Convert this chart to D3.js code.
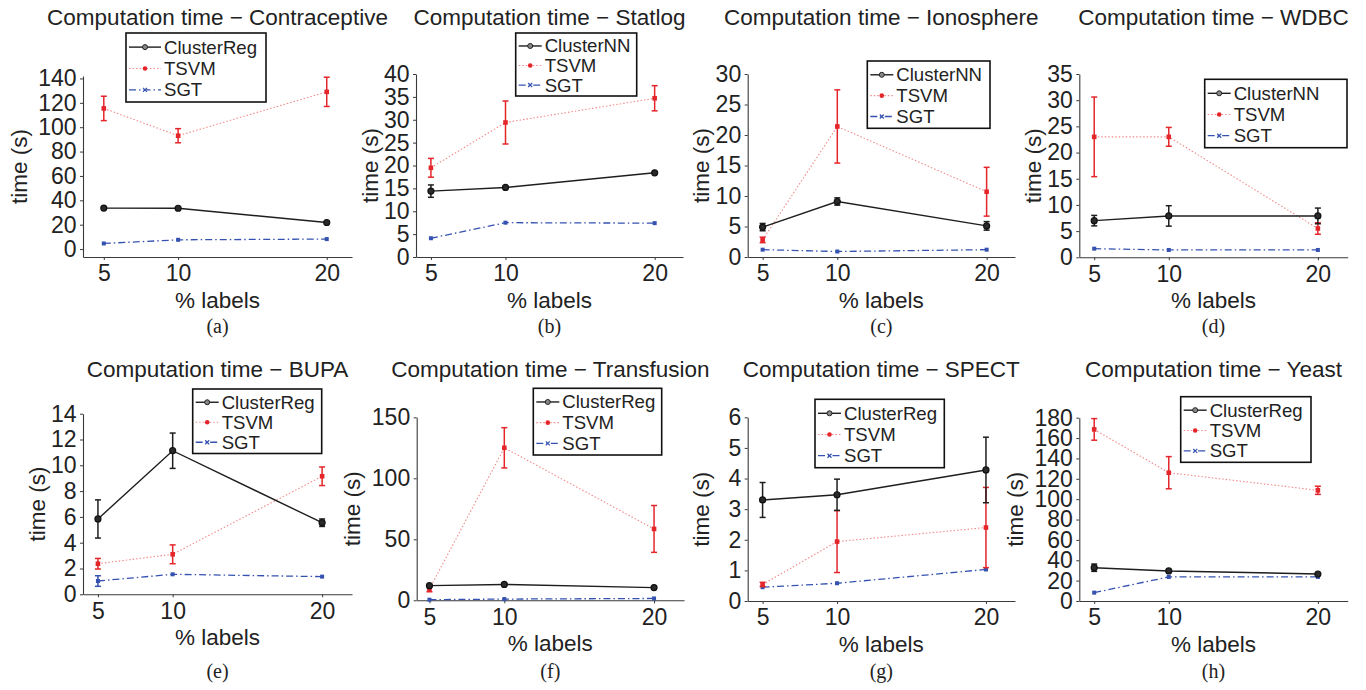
<!DOCTYPE html>
<html><head><meta charset="utf-8">
<script src="https://cdn.jsdelivr.net/npm/d3@7"></script>
<style>
body{margin:0;background:#fff}
svg{display:block}
text{font-family:"Liberation Sans",Arial,Helvetica,sans-serif;fill:#222}
.cap{font-family:"Liberation Serif","Times New Roman",serif}
</style>
</head><body><svg id="c" width="1366" height="690"></svg>
<script>
// ---------- data ----------
const xValues = [5, 10, 20];
const datasets = ["Contraceptive","Statlog","Ionosphere","WDBC","BUPA","Transfusion","SPECT","Yeast"];
const captions = ["(a)","(b)","(c)","(d)","(e)","(f)","(g)","(h)"];
const clusterMethod = ["ClusterReg","ClusterNN","ClusterNN","ClusterNN","ClusterReg","ClusterReg","ClusterReg","ClusterReg"];
const clusterTime = [[33.6,33.5,21.8],[14.4,15.2,18.4],[4.9,9.1,5.1],[7.0,7.9,7.9],[5.84,11.13,5.55],[12.0,13.0,10.4],[3.3,3.47,4.28],[32.7,29.5,26.5]];
const clusterErr  = [[0,0,0],[1.35,0,0],[0.6,0.6,0.7],[1.0,1.95,1.5],[1.48,1.37,0.29],[0,0,0],[0.57,0.51,1.07],[3.6,0,0]];
const tsvmTime = [[115.4,93.0,129.0],[19.5,29.4,34.7],[2.8,21.4,10.7],[23.0,23.0,5.5],[2.37,3.1,9.15],[9.3,125,58.5],[0.54,1.94,2.4],[168.5,126,108.7]];
const tsvmErr  = [[10,5.8,12],[2.05,4.7,2.75],[0.45,6.0,4.0],[7.6,1.8,1.1],[0.41,0.73,0.72],[2.3,16.5,19.2],[0.07,1.01,1.31],[10.6,15.8,4.0]];
const sgtTime = [[4.6,7.6,8.2],[4.1,7.5,7.4],[1.2,0.9,1.2],[1.65,1.4,1.4],[1.03,1.55,1.37],[0.5,1.0,1.5],[0.45,0.58,1.03],[8.2,23.6,23.6]];
const sgtErr  = [[0,0,0],[0,0,0],[0,0,0],[0,0,0],[0.41,0,0],[0,0,0],[0,0,0],[0,0,0]];
const yTicks = [
  [0,20,40,60,80,100,120,140],
  [0,5,10,15,20,25,30,35,40],
  [0,5,10,15,20,25,30],
  [0,5,10,15,20,25,30,35],
  [0,2,4,6,8,10,12,14],
  [0,50,100,150],
  [0,1,2,3,4,5,6],
  [0,20,40,60,80,100,120,140,160,180]
];
const titlePrefix = "Computation time \u2212 ";
const xLabel = "% labels";
const yLabel = "time (s)";
const seriesNames = ["TSVM","SGT"];

// ---------- layout ----------
const layout = [
  {x0:83,   x1:352,   yT:76,    yB:257,   xd:[3.6,21.7], yd:[-6.5,142], leg:[126,33,140,69],      tx:38},
  {x0:416,  x1:683,   yT:74,    yB:257,   xd:[4,21.9],   yd:[0,40],     leg:[515.7,33,121,63],    tx:29},
  {x0:747.7,x1:1015,  yT:74,    yB:257,   xd:[4,21.9],   yd:[0,30],     leg:[867.3,61,122.7,67.3],tx:29},
  {x0:1079.3,x1:1347.7,yT:74,   yB:257.3, xd:[4,22],     yd:[0,35],     leg:[1204.7,79.3,142.3,68.4],tx:29},
  {x0:83,   x1:352,   yT:413.7, yB:594.3, xd:[4,22],     yd:[0,14],     leg:[192.7,389,129,64.5], tx:29},
  {x0:416.7,x1:684,   yT:417.3, yB:600.3, xd:[4.15,22],  yd:[0,150],    leg:[533.3,388.3,128.4,66.7],tx:29},
  {x0:747.7,x1:1015,  yT:417.3, yB:601,   xd:[4,21.95],  yd:[0,6],      leg:[815,399.3,129.3,68.4],tx:29},
  {x0:1079.3,x1:1347.7,yT:417.7,yB:601,   xd:[4,22],     yd:[0,180],    leg:[1180.7,396.7,130.3,65.6],tx:29}
];
const titleY = [25, 377];
const captionY = [333, 678];

const styles = [
  {stroke:"#1e1e1e", width:1.4, dash:null,        err:"#1e1e1e"},
  {stroke:"#f28a8a", width:1.1, dash:"1.5 2",     err:"#e4262b"},
  {stroke:"#3552b0", width:1.3, dash:"7 3 1.5 3", err:"#3552b0"}
];

const svg = d3.select("#c");

layout.forEach((L, i) => {
  const row = i < 4 ? 0 : 1;
  const g = svg.append("g");
  const x = d3.scaleLinear().domain(L.xd).range([L.x0, L.x1]);
  const y = d3.scaleLinear().domain(L.yd).range([L.yB, L.yT]);

  // axes
  const ax = g.append("g").attr("transform", `translate(0,${L.yB})`)
    .call(d3.axisBottom(x).tickValues(xValues).tickFormat(d3.format("d")).tickSize(3).tickSizeOuter(0).tickPadding(5));
  const ay = g.append("g").attr("transform", `translate(${L.x0},0)`)
    .call(d3.axisLeft(y).tickValues(yTicks[i]).tickFormat(d3.format("d")).tickSize(3).tickSizeOuter(0).tickPadding(3.5));
  [ax, ay].forEach(a => {
    a.select(".domain").attr("stroke", "#3a3a3a").attr("stroke-width", 1.1);
    a.selectAll(".tick line").attr("stroke", "#3a3a3a");
    a.selectAll(".tick text").attr("font-size", 23).attr("fill", "#222")
      .attr("font-family", '"Liberation Sans",Arial,sans-serif');
  });

  const cx = (L.x0 + L.x1) / 2;
  g.append("text").attr("x", cx).attr("y", titleY[row]).attr("text-anchor", "middle")
    .attr("font-size", 22.5).text(titlePrefix + datasets[i]);
  g.append("text").attr("x", cx).attr("y", L.yB + 51).attr("text-anchor", "middle")
    .attr("font-size", 22.5).text(xLabel);
  g.append("text").attr("class", "cap").attr("x", cx).attr("y", captionY[row]).attr("text-anchor", "middle")
    .attr("font-size", 20).text(captions[i]);
  const maxTick = d3.max(yTicks[i]);
  const yl = L.x0 - (maxTick >= 100 ? 64 : 46);
  g.append("text").attr("transform", `translate(${yl},${(L.yT + L.yB) / 2}) rotate(-90)`)
    .attr("text-anchor", "middle").attr("dominant-baseline", "central")
    .attr("font-size", 22.5).text(yLabel);

  const series = [
    {vals: clusterTime[i], err: clusterErr[i], st: styles[0], mk: "circle"},
    {vals: tsvmTime[i],    err: tsvmErr[i],    st: styles[1], mk: "square"},
    {vals: sgtTime[i],     err: sgtErr[i],     st: styles[2], mk: "small"}
  ];
  const line = d3.line().x((d, k) => x(xValues[k])).y(d => y(d));

  // draw SGT, TSVM, then cluster on top
  [2, 1, 0].forEach(si => {
    const s = series[si];
    g.append("path").datum(s.vals).attr("d", line).attr("fill", "none")
      .attr("stroke", s.st.stroke).attr("stroke-width", s.st.width)
      .attr("stroke-dasharray", s.st.dash);
    // error bars
    s.vals.forEach((v, k) => {
      const e = s.err[k];
      if (!e) return;
      const px = x(xValues[k]);
      const eg = g.append("g").attr("stroke", s.st.err).attr("stroke-width", 1.5);
      eg.append("line").attr("x1", px).attr("x2", px).attr("y1", y(v - e)).attr("y2", y(v + e));
      eg.append("line").attr("x1", px - 3).attr("x2", px + 3).attr("y1", y(v - e)).attr("y2", y(v - e));
      eg.append("line").attr("x1", px - 3).attr("x2", px + 3).attr("y1", y(v + e)).attr("y2", y(v + e));
    });
    // markers
    s.vals.forEach((v, k) => {
      const px = x(xValues[k]), py = y(v);
      if (s.mk === "circle") {
        g.append("circle").attr("cx", px).attr("cy", py).attr("r", 3)
          .attr("fill", "#2a2a2a").attr("stroke", "#111").attr("stroke-width", 1.2);
      } else if (s.mk === "square") {
        g.append("rect").attr("x", px - 2.3).attr("y", py - 2.3).attr("width", 4.6).attr("height", 4.6)
          .attr("fill", "#e4262b");
      } else {
        g.append("rect").attr("x", px - 2).attr("y", py - 2).attr("width", 4).attr("height", 4)
          .attr("fill", "#3552b0");
      }
    });
  });

  // legend
  const [lx, ly, lw, lh] = L.leg;
  const lg = g.append("g");
  lg.append("rect").attr("x", lx).attr("y", ly).attr("width", lw).attr("height", lh)
    .attr("fill", "#fff").attr("stroke", "#111").attr("stroke-width", 1.6);
  const names = [clusterMethod[i], seriesNames[0], seriesNames[1]];
  const sp = lh * 0.31;
  names.forEach((nm, k) => {
    const ry = ly + lh / 2 + (k - 1) * sp + 1;
    const sx0 = lx + 3, sx1 = lx + L.tx - 3;
    const st = styles[k];
    lg.append("line").attr("x1", sx0).attr("x2", sx1).attr("y1", ry).attr("y2", ry)
      .attr("stroke", st.stroke).attr("stroke-width", st.width).attr("stroke-dasharray", st.dash);
    const mx = (sx0 + sx1) / 2;
    if (k === 0) {
      lg.append("circle").attr("cx", mx).attr("cy", ry).attr("r", 2.5)
        .attr("fill", "#888").attr("stroke", "#222").attr("stroke-width", 1);
    } else if (k === 1) {
      lg.append("circle").attr("cx", mx).attr("cy", ry).attr("r", 2.3).attr("fill", "#e4262b");
    } else {
      lg.append("path").attr("d", `M${mx-2},${ry-2}L${mx+2},${ry+2}M${mx-2},${ry+2}L${mx+2},${ry-2}`)
        .attr("stroke", "#3552b0").attr("stroke-width", 1.2);
    }
    lg.append("text").attr("x", lx + L.tx).attr("y", ry).attr("dominant-baseline", "central")
      .attr("font-size", 18.6).text(nm);
  });
});
</script>
</body></html>
